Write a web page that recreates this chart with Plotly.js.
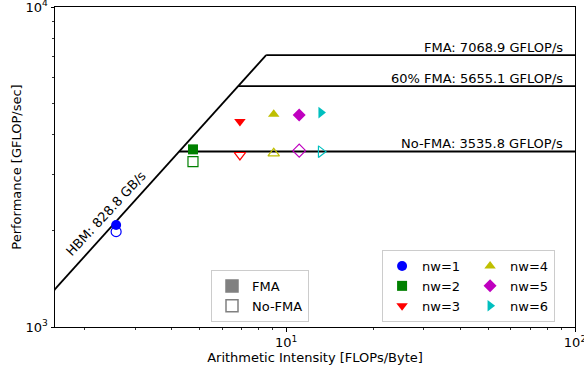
<!DOCTYPE html>
<html><head><meta charset="utf-8">
<script src="https://cdn.plot.ly/plotly-3.0.1.min.js"></script>
<style>html,body{margin:0;padding:0;background:#fff}#chart{width:584px;height:370px}</style>
</head><body><div id="chart"></div>
<script>
// ---- data ----
const nwLabels = ['nw=1', 'nw=2', 'nw=3', 'nw=4', 'nw=5', 'nw=6'];
const arithIntensity = [2.58, 4.76, 6.92, 9.06, 11.1, 13.2];
const perfFMA = [2083, 3590, 4384, 4625, 4598, 4677];
const perfNoFMA = [1986, 3288, 3448, 3490, 3557, 3532];
const hbmBandwidth = 828.8;
const hbmLabel = 'HBM: 828.8 GB/s';
const peakValues = [7068.9, 5655.1, 3535.8];
const peakLabels = ['FMA: 7068.9 GFLOP/s', '60% FMA: 5655.1 GFLOP/s', 'No-FMA: 3535.8 GFLOP/s'];
const styleLabels = ['FMA', 'No-FMA'];
const roofStartAI = 0.1;
const roofEndAI = 100;
const hbmLabelAI = 2.38;
const xTickVals = [10, 100];
const xTickText = ['10<sup>1</sup>', '10<sup>2</sup>'];
const xMinorVals = [2, 3, 4, 5, 6, 7, 8, 9, 20, 30, 40, 50, 60, 70, 80, 90];
const yTickVals = [1000, 10000];
const yTickText = ['10<sup>3</sup>', '10<sup>4</sup>'];
const yMinorVals = [2000, 3000, 4000, 5000, 6000, 7000, 8000, 9000];

// ---- styles ----
const colors = ['#0000ff', '#008000', '#ff0000', '#bfbf00', '#bf00bf', '#00bfbf'];
const symbols = ['circle', 'square', 'triangle-down', 'triangle-up', 'diamond', 'triangle-right'];
const sizes = [10, 10, 10, 10, 10, 10];
const FONT = 'DejaVu Sans, Verdana, sans-serif';

const traces = [];
// memory roof
traces.push({
  x: [roofStartAI, peakValues[0] / hbmBandwidth],
  y: [hbmBandwidth * roofStartAI, peakValues[0]],
  mode: 'lines', line: {color: '#000', width: 1.8}, showlegend: false, hoverinfo: 'skip'
});
// compute roofs
peakValues.forEach(p => {
  traces.push({
    x: [p / hbmBandwidth, roofEndAI], y: [p, p],
    mode: 'lines', line: {color: '#000', width: 1.8}, showlegend: false, hoverinfo: 'skip'
  });
});
// measured points
nwLabels.forEach((lab, i) => {
  const t = {
    x: [arithIntensity[i]], y: [perfFMA[i]], mode: 'markers', name: lab,
    legend: 'legend2', legendgroup: i < 3 ? 'c1' : 'c2',
    marker: {color: colors[i], symbol: symbols[i], size: sizes[i], line: {width: 0}}
  };
  if (i < 3) t.legendwidth = 43;
  traces.push(t);
  traces.push({
    x: [arithIntensity[i]], y: [perfNoFMA[i]], mode: 'markers', name: lab + ' (No-FMA)',
    showlegend: false,
    marker: {color: colors[i], symbol: symbols[i] + '-open', size: sizes[i], line: {width: 1.2, color: colors[i]}}
  });
});
// style key legend
traces.push({x: [null], y: [null], mode: 'markers', name: styleLabels[0], legend: 'legend',
  marker: {symbol: 'square', color: '#808080', size: 12, line: {width: 1.5, color: '#808080'}}});
traces.push({x: [null], y: [null], mode: 'markers', name: styleLabels[1], legend: 'legend',
  marker: {symbol: 'square-open', color: '#808080', size: 12, line: {width: 1.5, color: '#808080'}}});

const annotations = peakLabels.map((t, i) => ({
  xref: 'paper', x: 0.981, xanchor: 'right', yref: 'y', y: Math.log10(peakValues[i]), yanchor: 'bottom',
  yshift: -2, text: t, showarrow: false, font: {family: FONT, size: 13, color: '#000'}
}));
annotations.push({
  xref: 'x', yref: 'y', x: Math.log10(hbmLabelAI), y: Math.log10(hbmBandwidth * hbmLabelAI),
  yshift: 19, text: hbmLabel, textangle: -47, showarrow: false,
  font: {family: FONT, size: 13, color: '#000'}
});

const axisCommon = {
  type: 'log', showgrid: false, zeroline: false, showline: true, linecolor: '#000', linewidth: 1,
  mirror: true, ticks: 'outside', ticklen: 3.5, tickwidth: 1, tickcolor: '#000',
  tickfont: {family: FONT, size: 13, color: '#000'}, tickmode: 'array', ticklabeloverflow: 'allow'
};
const legendCommon = {
  bgcolor: 'rgba(255,255,255,0.8)', bordercolor: '#cccccc', borderwidth: 1,
  font: {family: FONT, size: 13, color: '#000'}, xanchor: 'left', yanchor: 'bottom'
};

const layout = {
  width: 584, height: 370,
  margin: {l: 55, r: 9, t: 7, b: 43},
  paper_bgcolor: '#fff', plot_bgcolor: '#fff',
  font: {family: FONT, size: 13, color: '#000'},
  xaxis: Object.assign({}, axisCommon, {
    range: [0.2, 2], tickvals: xTickVals, ticktext: xTickText,
    minor: {tickmode: 'array', tickvals: xMinorVals, ticks: 'outside', ticklen: 2.2, tickwidth: 0.8, tickcolor: '#000', showgrid: false},
    title: {text: 'Arithmetic Intensity [FLOPs/Byte]', font: {family: FONT, size: 13, color: '#000'}, standoff: 0}
  }),
  yaxis: Object.assign({}, axisCommon, {
    range: [3, 4], tickvals: yTickVals, ticktext: yTickText,
    minor: {tickmode: 'array', tickvals: yMinorVals, ticks: 'outside', ticklen: 2.2, tickwidth: 0.8, tickcolor: '#000', showgrid: false},
    title: {text: 'Performance [GFLOP/sec]', font: {family: FONT, size: 13, color: '#000'}, standoff: 1}
  }),
  legend: Object.assign({}, legendCommon, {x: 0.3, y: 0.0156, orientation: 'v'}),
  legend2: Object.assign({}, legendCommon, {x: 0.629, y: 0.0156, orientation: 'h'}),
  annotations: annotations,
  showlegend: true
};

Plotly.newPlot('chart', traces, layout, {displayModeBar: false, staticPlot: true});
</script>
</body></html>
